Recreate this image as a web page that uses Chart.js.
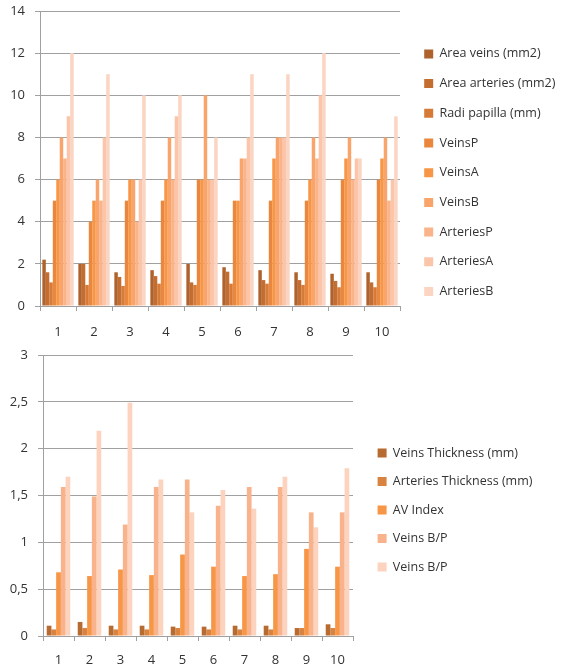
<!DOCTYPE html>
<html>
<head>
<meta charset="utf-8">
<script src="https://cdn.jsdelivr.net/npm/chart.js@4"></script>
<style>
  html, body { margin: 0; padding: 0; background: #fff; }
  .box { position: relative; width: 572px; }
  #top { height: 338px; }
  #bottom { height: 329px; }
</style>
</head>
<body>
<div class="box" id="top"><canvas id="chartTop"></canvas></div>
<div class="box" id="bottom"><canvas id="chartBottom"></canvas></div>
<script>
// categories
const cases = ['1', '2', '3', '4', '5', '6', '7', '8', '9', '10'];

// top chart series
const areaVeins     = [2.2, 2.0, 1.6, 1.7, 2.0, 1.84, 1.7, 1.6, 1.53, 1.6];
const areaArteries  = [1.6, 2.0, 1.38, 1.42, 1.12, 1.63, 1.23, 1.23, 1.19, 1.12];
const radiPapilla   = [1.12, 1.0, 0.95, 1.06, 1.0, 1.06, 1.06, 1.0, 0.89, 0.89];
const veinsP        = [5, 4, 5, 5, 6, 5, 5, 5, 6, 6];
const veinsA        = [6, 5, 6, 6, 6, 5, 7, 6, 7, 7];
const veinsB        = [8, 6, 6, 8, 10, 7, 8, 8, 8, 8];
const arteriesP     = [7, 5, 4, 6, 6, 7, 8, 7, 6, 5];
const arteriesA     = [9, 8, 6, 9, 6, 8, 8, 10, 7, 6];
const arteriesB     = [12, 11, 10, 10, 8, 11, 11, 12, 7, 9];
const topTicks      = [0, 2, 4, 6, 8, 10, 12, 14];

// bottom chart series
const veinsThickness    = [0.11, 0.15, 0.11, 0.11, 0.10, 0.10, 0.11, 0.11, 0.085, 0.125];
const arteriesThickness = [0.07, 0.085, 0.07, 0.07, 0.085, 0.07, 0.07, 0.07, 0.085, 0.085];
const avIndex           = [0.68, 0.64, 0.71, 0.65, 0.87, 0.74, 0.64, 0.66, 0.93, 0.74];
const veinsBP1          = [1.59, 1.49, 1.19, 1.59, 1.67, 1.39, 1.59, 1.59, 1.32, 1.32];
const veinsBP2          = [1.70, 2.19, 2.49, 1.67, 1.32, 1.56, 1.36, 1.70, 1.16, 1.79];
const bottomTicks       = [0, 0.5, 1, 1.5, 2, 2.5, 3];

const gridColor = '#a0a0a0';
const textColor = '#333333';
Chart.defaults.font.family = "'Open Sans', sans-serif";
Chart.defaults.color = textColor;

// fixed legend width and a small offset so the legend sits like the original
const legendShift = {
    id: 'legendShift',
    afterInit(chart, args, opts) {
        const lg = chart.legend;
        const fit = lg.fit;
        lg.fit = function() {
            fit.call(this);
            this.width = opts.width;
        };
        const draw = lg.draw;
        lg.draw = function() {
            const c = this.ctx;
            c.save();
            c.translate(opts.dx, opts.dy);
            draw.call(this);
            c.restore();
        };
    }
};

function makeChart(id, series, cfg) {
    const ctx = document.getElementById(id).getContext('2d');
    return new Chart(ctx, {
        type: 'bar',
        data: {
            labels: cases,
            datasets: series.map(s => ({
                label: s.label,
                data: s.data,
                backgroundColor: s.color,
                borderWidth: 0,
                categoryPercentage: cfg.catPct,
                barPercentage: 1.0
            }))
        },
        plugins: [legendShift],
        options: {
            responsive: true,
            maintainAspectRatio: false,
            animation: false,
            layout: { padding: { top: cfg.padTop, right: 0, left: 0, bottom: 0 } },
            scales: {
                x: {
                    grid: { display: true, drawOnChartArea: false, offset: true, color: gridColor, tickLength: 5 },
                    border: { color: gridColor },
                    ticks: { font: { size: 13 }, padding: cfg.xPad, color: textColor, maxRotation: 0 },
                    afterFit: axis => { axis.height = cfg.xHeight; }
                },
                y: {
                    min: 0,
                    max: cfg.max,
                    afterBuildTicks: axis => { axis.ticks = cfg.ticks.map(v => ({ value: v })); },
                    grid: { color: gridColor, tickLength: 5 },
                    border: { color: gridColor },
                    ticks: {
                        font: { size: 13 },
                        padding: 10,
                        color: textColor,
                        callback: v => String(v).replace('.', ',')
                    },
                    afterFit: axis => {
                        axis.width = cfg.yWidth;
                        axis.paddingTop = 0;
                        axis.paddingBottom = 0;
                    }
                }
            },
            plugins: {
                legend: {
                    position: 'right',
                    labels: {
                        boxWidth: 9,
                        boxHeight: 9,
                        padding: cfg.legPad,
                        font: { size: 12.5 },
                        color: textColor
                    }
                },
                tooltip: { enabled: false },
                legendShift: cfg.shift
            }
        }
    });
}

makeChart('chartTop', [
    { label: 'Area veins (mm2)', data: areaVeins, color: '#B0622C' },
    { label: 'Area arteries (mm2)', data: areaArteries, color: '#C46D31' },
    { label: 'Radi papilla (mm)', data: radiPapilla, color: '#D67A38' },
    { label: 'VeinsP', data: veinsP, color: '#E9873F' },
    { label: 'VeinsA', data: veinsA, color: '#F79646' },
    { label: 'VeinsB', data: veinsB, color: '#F8A46A' },
    { label: 'ArteriesP', data: arteriesP, color: '#F9B48A' },
    { label: 'ArteriesA', data: arteriesA, color: '#FAC5A8' },
    { label: 'ArteriesB', data: arteriesB, color: '#FCD5C2' }
], {
    catPct: 0.87, max: 14, ticks: topTicks, padTop: 11,
    xHeight: 32, xPad: 13, yWidth: 40, legPad: 17.2,
    shift: { width: 172, dx: 7, dy: -1.8 }
});

makeChart('chartBottom', [
    { label: 'Veins Thickness (mm)', data: veinsThickness, color: '#B86B30' },
    { label: 'Arteries Thickness (mm)', data: arteriesThickness, color: '#D88340' },
    { label: 'AV Index', data: avIndex, color: '#F79646' },
    { label: 'Veins B/P', data: veinsBP1, color: '#F9B38C' },
    { label: 'Veins B/P', data: veinsBP2, color: '#FCD3BE' }
], {
    catPct: 0.76, max: 3, ticks: bottomTicks, padTop: 17,
    xHeight: 31, xPad: 11, yWidth: 43, legPad: 16,
    shift: { width: 219, dx: 8.6, dy: -1.0 }
});
</script>
</body>
</html>
